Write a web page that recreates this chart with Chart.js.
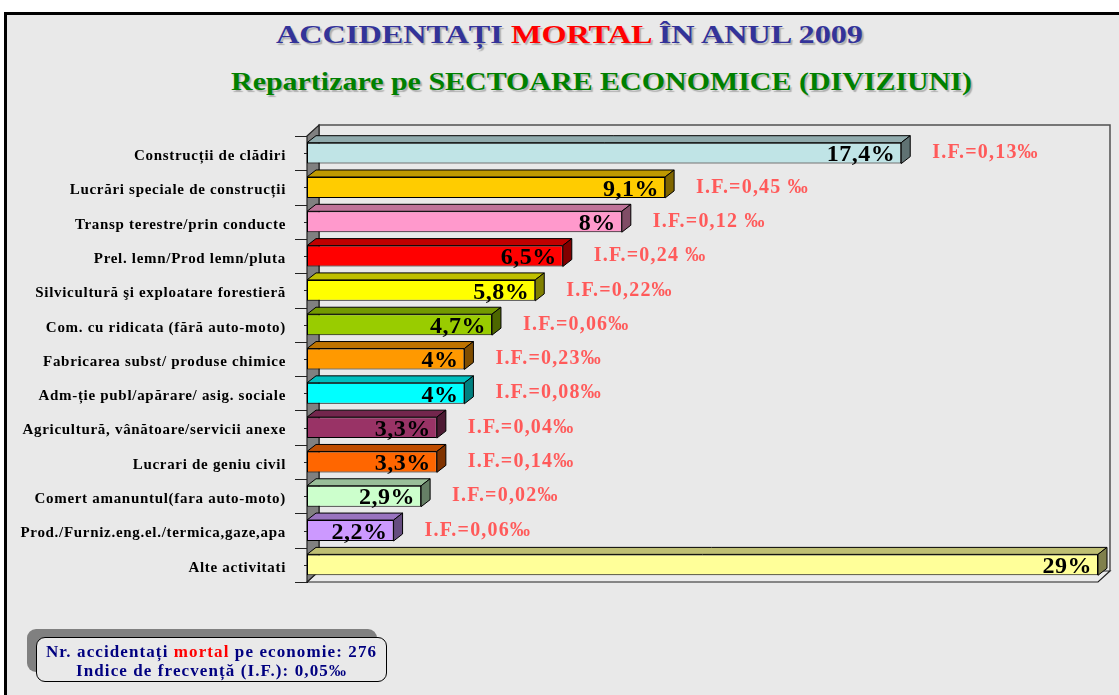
<!DOCTYPE html>
<html>
<head>
<meta charset="utf-8">
<script src="https://cdn.jsdelivr.net/npm/chart.js@4.4.1/dist/chart.umd.min.js"></script>
<style>
  html, body { margin: 0; padding: 0; background: #fff; width: 1119px; height: 695px; overflow: hidden; }
  #frame { position: absolute; left: 4px; top: 12px; width: 1200px; height: 800px;
           border-left: 3px solid #000; border-top: 3px solid #000; background: #e9e9e9; }
  .title { position: absolute; font-family: 'Liberation Serif', 'Times New Roman', serif; font-weight: bold;
           white-space: nowrap; line-height: 1; transform-origin: left top;
           text-shadow: 1.5px 1.5px 1px rgba(0,0,0,0.25); }
  #t1 { left: 276px; top: 22px; font-size: 26px; color: #333399; }
  #t2 { left: 231px; top: 69px; font-size: 25px; color: #008000; }
  .red { color: #ff0000; }
  #wrap { position: absolute; left: 0; top: 0; width: 1119px; height: 695px; }
  #shadow { position: absolute; left: 27px; top: 629px; width: 350px; height: 43px; background: #808080; border-radius: 9px; }
  #box { position: absolute; left: 36px; top: 637px; width: 349px; height: 38px; padding-top: 5px; box-sizing: content-box;
         border: 1.5px solid #000; border-radius: 9px; background: #e9e9e9; text-align: center;
         font: bold 17px 'Liberation Serif', serif; color: #000080; line-height: 18.5px; letter-spacing: 1.1px; white-space: nowrap; }
</style>
</head>
<body>
<div id="frame"></div>
<div class="title" id="t1" data-w="587">ACCIDENTAȚI <span class="red">MORTAL</span> ÎN ANUL 2009</div>
<div class="title" id="t2" data-w="741">Repartizare pe SECTOARE ECONOMICE (DIVIZIUNI)</div>
<div id="wrap"><canvas id="sectorChart" width="1119" height="695"></canvas></div>
<div id="shadow"></div>
<div id="box">Nr. accidentați <span class="red">mortal</span> pe economie: 276<br>Indice de frecvență (I.F.): 0,05‰</div>

<script>
// categories, top to bottom
const categories = [
  'Construcții de clădiri',
  'Lucrări speciale de construcții',
  'Transp terestre/prin conducte',
  'Prel. lemn/Prod lemn/pluta',
  'Silvicultură şi exploatare forestieră',
  'Com. cu ridicata (fără auto-moto)',
  'Fabricarea subst/ produse chimice',
  'Adm-ție publ/apărare/ asig. sociale',
  'Agricultură, vânătoare/servicii anexe',
  'Lucrari de geniu civil',
  'Comert amanuntul(fara auto-moto)',
  'Prod./Furniz.eng.el./termica,gaze,apa',
  'Alte activitati'
];

// bar lengths as drawn (the two longest bars are shortened in the original)
const barValues = [15.1, 9.1, 8, 6.5, 5.8, 4.7, 4, 4, 3.3, 3.3, 2.9, 2.2, 20.1];

// printed share of each sector
const shareLabels = ['17,4%', '9,1%', '8%', '6,5%', '5,8%', '4,7%', '4%', '4%', '3,3%', '3,3%', '2,9%', '2,2%', '29%'];

// frequency index per sector
const ifLabels = ['I.F.=0,13‰', 'I.F.=0,45 ‰', 'I.F.=0,12 ‰', 'I.F.=0,24 ‰', 'I.F.=0,22‰', 'I.F.=0,06‰',
  'I.F.=0,23‰', 'I.F.=0,08‰', 'I.F.=0,04‰', 'I.F.=0,14‰', 'I.F.=0,02‰', 'I.F.=0,06‰', ''];

const barColors = ['#c0e4e6', '#ffcc00', '#ff99cc', '#ff0000', '#ffff00', '#99cc00', '#ff9900',
  '#00ffff', '#993366', '#ff6600', '#ccffcc', '#cc99ff', '#ffff99'];

const SERIF = "'Liberation Serif', 'Times New Roman', serif";

// stretch titles to the width they have in the original
document.querySelectorAll('.title').forEach(el => {
  const w = el.getBoundingClientRect().width;
  el.style.transform = `scaleX(${el.dataset.w / w})`;
});

function shade(hex, f) {
  const n = parseInt(hex.slice(1), 16);
  const r = Math.round(((n >> 16) & 255) * f);
  const g = Math.round(((n >> 8) & 255) * f);
  const b = Math.round((n & 255) * f);
  return `rgb(${r},${g},${b})`;
}

function poly(ctx, pts, fill, stroke) {
  ctx.beginPath();
  ctx.moveTo(pts[0][0], pts[0][1]);
  for (let i = 1; i < pts.length; i++) ctx.lineTo(pts[i][0], pts[i][1]);
  ctx.closePath();
  if (fill) { ctx.fillStyle = fill; ctx.fill(); }
  if (stroke) { ctx.strokeStyle = stroke; ctx.stroke(); }
}

// 3D walls, bar depth and labels
const wall = { dx: 12, dy: 11 };
const depth = { dx: 9, dy: 7 };

const box3d = {
  id: 'box3d',
  beforeDraw(chart) {
    chart.ctx.letterSpacing = '0.7px';
  },
  beforeDatasetsDraw(chart) {
    const { ctx, chartArea: a } = chart;
    ctx.letterSpacing = '0px';
    ctx.save();
    ctx.lineWidth = 1.5;
    // back wall
    ctx.beginPath();
    ctx.moveTo(a.left + wall.dx, a.bottom - wall.dy);
    ctx.lineTo(a.left + wall.dx, a.top - wall.dy);
    ctx.lineTo(a.right + wall.dx, a.top - wall.dy);
    ctx.lineTo(a.right + wall.dx, a.bottom - wall.dy);
    ctx.strokeStyle = '#505050';
    ctx.stroke();
    // floor
    ctx.lineWidth = 1.2;
    poly(ctx, [[a.left, a.bottom], [a.left + wall.dx, a.bottom - wall.dy],
      [a.right + wall.dx, a.bottom - wall.dy], [a.right, a.bottom]], '#ebebeb', '#222');
    // left wall
    poly(ctx, [[a.left, a.top], [a.left + wall.dx, a.top - wall.dy],
      [a.left + wall.dx, a.bottom - wall.dy], [a.left, a.bottom]], '#808080', '#222');
    // category ticks
    const yScale = chart.scales.y;
    const step = (a.bottom - a.top) / categories.length;
    ctx.strokeStyle = '#222';
    ctx.lineWidth = 1;
    ctx.beginPath();
    for (let i = 0; i <= categories.length; i++) {
      const yb = Math.round(a.top + i * step) + 0.5;
      ctx.moveTo(a.left - 12, yb);
      ctx.lineTo(a.left, yb);
    }
    categories.forEach((c, i) => {
      const yc = Math.round(yScale.getPixelForValue(i)) + 0.5;
      ctx.moveTo(a.left - 3, yc);
      ctx.lineTo(a.left + 5, yc);
    });
    ctx.stroke();
    ctx.restore();
  },
  afterDatasetsDraw(chart) {
    const { ctx } = chart;
    const meta = chart.getDatasetMeta(0);
    ctx.save();
    ctx.lineWidth = 1;
    meta.data.forEach((bar, i) => {
      const { x, y, base, height } = bar.getProps(['x', 'y', 'base', 'height'], true);
      const top = y - height / 2, bot = y + height / 2;
      const col = barColors[i];
      poly(ctx, [[base, top], [base + depth.dx, top - depth.dy], [x + depth.dx, top - depth.dy], [x, top]],
        shade(col, 0.75), '#000');
      poly(ctx, [[x, top], [x + depth.dx, top - depth.dy], [x + depth.dx, bot - depth.dy], [x, bot]],
        shade(col, 0.5), '#000');

      ctx.textBaseline = 'middle';
      ctx.letterSpacing = '0.5px';
      ctx.font = `bold 24px ${SERIF}`;
      ctx.fillStyle = '#000';
      ctx.textAlign = 'right';
      ctx.fillText(shareLabels[i], x - 6, y + 2);

      if (ifLabels[i]) {
        ctx.letterSpacing = '1.2px';
        ctx.font = `bold 20px ${SERIF}`;
        ctx.fillStyle = '#ff5a5a';
        ctx.textAlign = 'left';
        ctx.fillText(ifLabels[i], x + 31, y);
      }
    });
    ctx.restore();
  }
};

const ctx = document.getElementById('sectorChart');
new Chart(ctx, {
  type: 'bar',
  data: {
    labels: categories,
    datasets: [{
      data: barValues,
      backgroundColor: barColors,
      borderColor: '#000',
      borderWidth: 1,
      borderSkipped: false,
      barPercentage: 0.61,
      categoryPercentage: 1
    }]
  },
  options: {
    indexAxis: 'y',
    responsive: false,
    animation: false,
    layout: { padding: { left: 10, top: 136, right: 21, bottom: 113 } },
    plugins: {
      legend: { display: false },
      tooltip: { enabled: false }
    },
    scales: {
      x: { display: false, min: 0, max: 20.1 },
      y: {
        afterFit: (scale) => { scale.width = 297; },
        grid: { display: false, drawTicks: false },
        border: { display: true, color: '#000', width: 1 },
        ticks: {
          padding: 21,
          labelOffset: 3,
          color: '#000',
          font: { family: SERIF, size: 15, weight: 'bold' }
        }
      }
    }
  },
  plugins: [box3d]
});
</script>
</body>
</html>
